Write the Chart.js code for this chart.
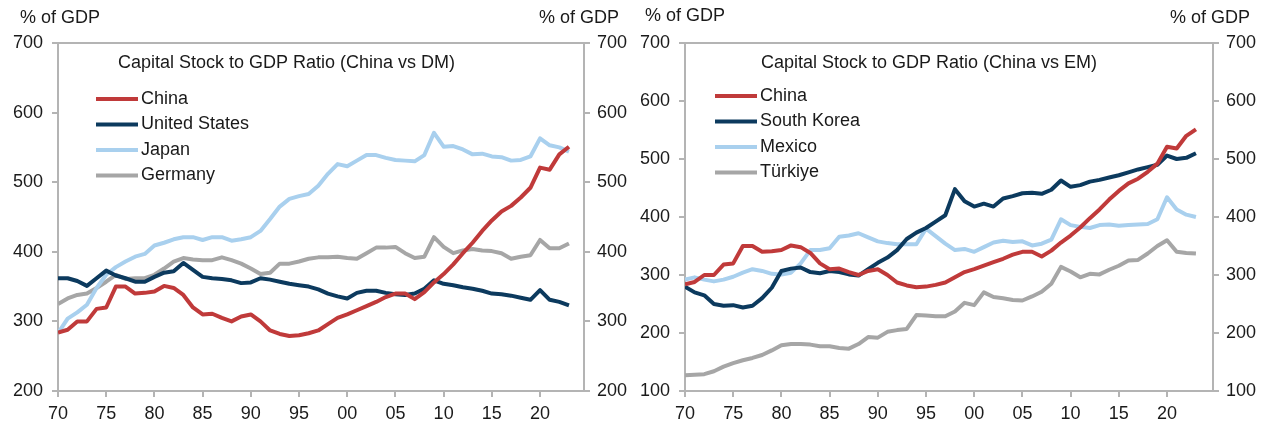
<!DOCTYPE html>
<html>
<head>
<meta charset="utf-8">
<script src="https://cdn.jsdelivr.net/npm/chart.js@4.4.1/dist/chart.umd.min.js"></script>
<style>
  body { margin: 0; background: #fff; }
  #wrap { position: relative; width: 1266px; height: 424px; }
  canvas { position: absolute; top: 0; }
</style>
</head>
<body>
<div id="wrap">
  <canvas id="dm" width="633" height="424" style="left:0"></canvas>
  <canvas id="em" width="633" height="424" style="left:633px"></canvas>
</div>
<script>
// years 1970..2023
var years = [];
for (var y = 1970; y <= 2023; y++) years.push(y);
var tickYears = [1970, 1975, 1980, 1985, 1990, 1995, 2000, 2005, 2010, 2015, 2020];

var china = [284, 288, 300, 300, 318, 320, 350, 350, 340, 341, 343, 351, 348, 338, 320, 310, 311, 305, 300, 307,
  310, 300, 287, 282, 279, 280, 283, 287, 296, 305, 310, 316, 322, 328, 335, 340, 340, 332, 342, 356,
  368, 382, 398, 413, 430, 445, 458, 466, 478, 492, 521, 518, 540, 551];
var unitedStates = [362, 362, 358, 351, 362, 373, 366, 362, 357, 357, 364, 370, 372, 384, 374, 364, 362, 361, 359, 355,
  356, 362, 360, 357, 354, 352, 350, 346, 340, 336, 333, 341, 344, 344, 341, 339, 338, 340, 347, 359,
  354, 352, 349, 347, 344, 340, 339, 337, 334, 331, 345, 331, 328, 323];
var japan = [283, 304, 313, 324, 348, 367, 378, 386, 393, 397, 409, 413, 418, 421, 421, 417, 421, 421, 416, 418,
  421, 430, 447, 465, 476, 480, 483, 495, 512, 526, 523, 531, 539, 539, 535, 532, 531, 530, 539, 571,
  551, 552, 547, 540, 541, 537, 536, 531, 532, 537, 563, 553, 550, 544];
var germany = [325, 333, 338, 340, 348, 357, 367, 361, 362, 362, 367, 376, 386, 391, 389, 388, 388, 392, 388, 383,
  376, 368, 370, 383, 383, 386, 390, 392, 392, 393, 391, 390, 398, 406, 406, 407, 398, 391, 393, 421,
  407, 398, 402, 404, 402, 401, 398, 390, 393, 395, 417, 405, 405, 412];
var southKorea = [280, 270, 265, 250, 247, 248, 244, 247, 260, 278, 307, 311, 313, 305, 303, 307, 305, 301, 299, 310,
  321, 330, 343, 362, 373, 381, 392, 403, 448, 427, 418, 423, 418, 432, 436, 441, 442, 440, 447, 463,
  452, 455, 461, 464, 468, 472, 477, 482, 486, 490, 506, 500, 502, 510];
var mexico = [292, 296, 292, 289, 292, 297, 304, 310, 307, 302, 301, 304, 320, 343, 343, 346, 366, 368, 372, 365,
  358, 355, 353, 353, 353, 380, 367, 354, 343, 345, 340, 348, 356, 359, 357, 358, 351, 354, 361, 396,
  386, 383, 381, 386, 387, 385, 386, 387, 388, 396, 434, 413, 404, 400];
var turkiye = [127, 128, 129, 134, 142, 148, 153, 157, 162, 170, 179, 181, 181, 180, 177, 177, 174, 173, 181, 193,
  192, 202, 205, 207, 231, 230, 229, 229, 237, 252, 248, 270, 262, 260, 257, 256, 263, 271, 285, 314,
  306, 296, 302, 301, 309, 316, 325, 326, 337, 350, 360, 340, 338, 337];

var RED = '#c03a3a', NAVY = '#0c3a5e', LIGHT = '#a9d0ee', GREY = '#a6a6a6';
var AXIS = '#b4b4b4', TEXT = '#1a1a1a';
var FONT = '"Liberation Sans", Arial, sans-serif';

Chart.defaults.font.family = FONT;
Chart.defaults.font.size = 18;
Chart.defaults.color = TEXT;

function pts(arr) {
  return years.map(function(yr, i) { return { x: yr, y: arr[i] }; });
}

function series(label, arr, color) {
  return {
    label: label,
    data: pts(arr),
    borderColor: color,
    backgroundColor: color,
    borderWidth: 4,
    pointRadius: 0,
    tension: 0,
    borderJoinStyle: 'round',
    borderCapStyle: 'butt'
  };
}

// titles, "% of GDP" notes and the in-plot legend
var overlay = {
  id: 'overlay',
  afterDraw: function(chart, args, opts) {
    var ctx = chart.ctx;
    ctx.save();
    ctx.font = '18px ' + FONT;
    ctx.fillStyle = TEXT;
    ctx.textBaseline = 'middle';
    opts.texts.forEach(function(t) {
      ctx.textAlign = t.align || 'left';
      ctx.fillText(t.text, t.x, t.y);
    });
    chart.data.datasets.forEach(function(ds, i) {
      var y = opts.legendY + i * opts.legendGap;
      ctx.strokeStyle = ds.borderColor;
      ctx.lineWidth = 4;
      ctx.beginPath();
      ctx.moveTo(opts.legendX, y);
      ctx.lineTo(opts.legendX + 42, y);
      ctx.stroke();
      ctx.textAlign = 'left';
      ctx.fillText(ds.label, opts.legendX + 45, y);
    });
    ctx.restore();
  }
};

function yAxis(pos, min, width) {
  return {
    type: 'linear',
    position: pos,
    min: min,
    max: 700,
    ticks: { stepSize: 100, padding: pos === 'left' ? 9 : 7, color: TEXT, font: { size: 18 } },
    grid: {
      drawOnChartArea: pos === 'left',
      color: function(c) { return c.tick && c.tick.value === 700 ? AXIS : 'rgba(0,0,0,0)'; },
      tickColor: AXIS,
      tickLength: 6,
      lineWidth: 2
    },
    border: { color: AXIS, width: 2 },
    afterFit: function(scale) { scale.width = width; }
  };
}

function makeChart(id, datasets, yMin, leftW, rightW, maxX, notes) {
  return new Chart(document.getElementById(id), {
    type: 'line',
    data: { datasets: datasets },
    options: {
      responsive: false,
      animation: false,
      devicePixelRatio: 1,
      layout: { padding: { top: 43, left: 0, right: 0, bottom: 0 } },
      plugins: { legend: { display: false }, tooltip: { enabled: false }, overlay: notes },
      scales: {
        x: {
          type: 'linear',
          min: 1970,
          max: maxX,
          afterBuildTicks: function(scale) {
            scale.ticks = tickYears.map(function(v) { return { value: v }; });
          },
          ticks: {
            padding: 6,
            color: TEXT,
            font: { size: 18 },
            maxRotation: 0,
            callback: function(v) { return String(v % 100).padStart(2, '0'); }
          },
          grid: { drawOnChartArea: false, tickColor: AXIS, tickLength: 6, lineWidth: 2 },
          border: { color: AXIS, width: 2 },
          afterFit: function(scale) { scale.height = 33; }
        },
        y: yAxis('left', yMin, leftW),
        y2: yAxis('right', yMin, rightW)
      }
    },
    plugins: [overlay]
  });
}

makeChart('dm', [
  series('China', china, RED),
  series('United States', unitedStates, NAVY),
  series('Japan', japan, LIGHT),
  series('Germany', germany, GREY)
], 200, 58, 49, 2024.56, {
  texts: [
    { text: '% of GDP', x: 20, y: 18 },
    { text: '% of GDP', x: 619, y: 18, align: 'right' },
    { text: 'Capital Stock to GDP Ratio (China vs DM)', x: 118, y: 63 }
  ],
  legendX: 96, legendY: 99, legendGap: 25.5
});

makeChart('em', [
  series('China', china, RED),
  series('South Korea', southKorea, NAVY),
  series('Mexico', mexico, LIGHT),
  series('Türkiye', turkiye, GREY)
], 100, 52, 53, 2024.77, {
  texts: [
    { text: '% of GDP', x: 12, y: 16 },
    { text: '% of GDP', x: 617, y: 18, align: 'right' },
    { text: 'Capital Stock to GDP Ratio (China vs EM)', x: 128, y: 63 }
  ],
  legendX: 82, legendY: 96, legendGap: 25.5
});
</script>
</body>
</html>
